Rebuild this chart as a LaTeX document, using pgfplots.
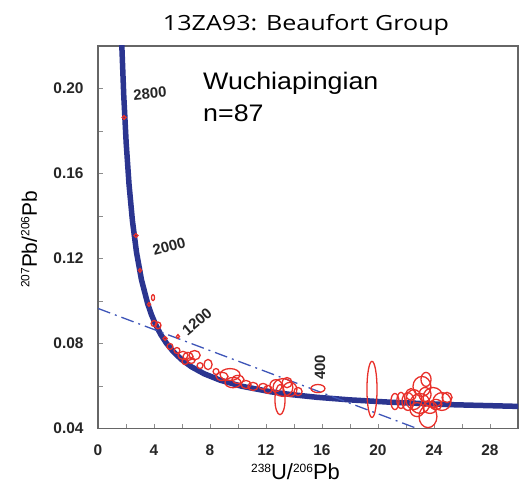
\documentclass[border=0pt]{standalone}
\usepackage{pgfplots}
\pgfplotsset{compat=1.18}
\usepackage{pgfplotstable}
\usepackage{fontspec}
\setmainfont{Liberation Sans}
\newfontfamily\titlefont{Open Sans}
\usetikzlibrary{calc}
\definecolor{concblue}{HTML}{2B3590}
\definecolor{discblue}{HTML}{3E55B8}
\definecolor{ellred}{HTML}{E8302A}
\newcommand{\sups}[1]{\raisebox{7.5bp}{\fontsize{12}{12}\selectfont #1}}

% Tera-Wasserburg concordia, age (Ma), 238U/206Pb, 207Pb/206Pb
\pgfplotstableread{
age x y
200 31.735 0.05011
250 25.289 0.05120
300 20.992 0.05233
350 17.923 0.05350
400 15.621 0.05470
450 13.831 0.05594
500 12.399 0.05722
600 10.252 0.05990
700 8.7183 0.06276
800 7.5684 0.06580
900 6.6743 0.06904
1000 5.9595 0.07250
1100 5.3749 0.07619
1200 4.8877 0.08013
1300 4.4756 0.08432
1400 4.1224 0.08880
1500 3.8168 0.09359
1600 3.5496 0.09872
1800 3.1044 0.11000
2000 2.7491 0.12298
2200 2.4585 0.13781
2400 2.2170 0.15484
2600 2.0130 0.17438
2800 1.8386 0.19685
3000 1.6874 0.22260
3100 1.6195 0.23705
}\concordia

% analyses: centre x, centre y, half-axes rx, ry (axis units)
\pgfplotstableread{
x y rx ry
1.86 0.1864 0.14 0.0009
2.71 0.1308 0.14 0.0009
3.00 0.1144 0.11 0.0009
3.93 0.1016 0.11 0.0014
3.64 0.0984 0.11 0.0009
4.00 0.0894 0.21 0.0014
4.29 0.0885 0.21 0.0016
4.79 0.0824 0.14 0.0009
5.71 0.0833 0.11 0.0009
5.14 0.0786 0.21 0.0014
5.64 0.0767 0.21 0.0014
6.07 0.0744 0.36 0.0019
6.43 0.0739 0.36 0.0019
6.64 0.0720 0.29 0.0014
6.21 0.0715 0.21 0.0014
6.90 0.0745 0.40 0.0022
7.86 0.0701 0.29 0.0024
7.29 0.0696 0.21 0.0014
8.43 0.0668 0.21 0.0014
8.86 0.0645 0.43 0.0019
9.43 0.0654 0.71 0.0028
9.64 0.0616 0.57 0.0024
10.00 0.0631 0.43 0.0019
10.57 0.0607 0.36 0.0019
11.07 0.0598 0.36 0.0019
11.79 0.0598 0.29 0.0014
12.14 0.0584 0.29 0.0019
12.71 0.0602 0.43 0.0028
13.21 0.0593 0.71 0.0042
13.71 0.0584 0.50 0.0033
13.50 0.0616 0.36 0.0024
13.00 0.0536 0.36 0.0071
13.21 0.0386 0.71 0.0221
14.29 0.0574 0.29 0.0019
15.71 0.0588 0.50 0.0019
19.57 0.0584 0.36 0.0132
21.21 0.0527 0.29 0.0038
21.64 0.0532 0.29 0.0038
22.14 0.0527 0.43 0.0042
22.36 0.0560 0.36 0.0028
22.57 0.0536 0.57 0.0047
22.79 0.0489 0.50 0.0033
23.00 0.0518 0.71 0.0047
23.14 0.0598 0.64 0.0047
23.36 0.0560 0.43 0.0033
23.43 0.0631 0.36 0.0033
23.57 0.0456 0.64 0.0052
23.71 0.0499 0.50 0.0028
23.93 0.0546 0.71 0.0047
24.14 0.0513 0.43 0.0024
24.57 0.0527 0.64 0.0042
24.93 0.0546 0.36 0.0024
}\analyses

\begin{document}
\begin{tikzpicture}
\begin{axis}[
  name=ax,
  x=14bp, y=2125bp,
  xmin=0, xmax=30, ymin=0.04, ymax=0.22,
  axis line style={draw=black!60, line width=1.8bp},
  xtick={0,4,...,28}, minor x tick num=1,
  ytick={0.04,0.08,0.12,0.16,0.20}, minor y tick num=1,
  xtick pos=bottom, ytick pos=left,
  tick align=inside,
  major tick length=5bp, minor tick length=5bp,
  tick style={black!45, line width=0.8bp},
  scaled y ticks=false,
  y tick label style={/pgf/number format/fixed, /pgf/number format/fixed zerofill, /pgf/number format/precision=2, xshift=-11bp},
  tick label style={font=\bfseries\fontsize{15.5}{18}\selectfont, text=black!85},
  /pgf/number format/assume math mode=true,
  x tick label style={yshift=-13bp},
  clip marker paths=true,
]
\addplot[concblue, line width=5.5bp, line join=round] table[x=x, y=y] {\concordia};
\addplot[discblue, line width=1.3bp, dash pattern=on 13bp off 5bp on 2bp off 5bp] coordinates {(0,0.0965) (23.6,0.0380)};
\addplot[scatter, only marks, mark=*, mark size=0pt,
  visualization depends on={14*\thisrow{rx} \as \ellrx},
  visualization depends on={2125*\thisrow{ry} \as \ellry},
  scatter/@pre marker code/.code={\draw[ellred, line width=1.3bp] (0pt,0pt) ellipse [x radius=\ellrx bp, y radius=\ellry bp];},
  scatter/@post marker code/.code={},
] table[x=x, y=y] {\analyses};

\node[font=\bfseries\fontsize{15}{18}\selectfont, text=black!85, rotate=5, inner sep=0pt] at (axis cs:3.71,0.1976) {2800};
\node[font=\bfseries\fontsize{15}{18}\selectfont, text=black!85, rotate=15, inner sep=0pt] at (axis cs:5.07,0.1256) {2000};
\node[font=\bfseries\fontsize{15}{18}\selectfont, text=black!85, rotate=40, inner sep=0pt] at (axis cs:7.07,0.0904) {1200};
\node[font=\bfseries\fontsize{15}{18}\selectfont, text=black!85, rotate=90, inner sep=0pt] at (axis cs:15.86,0.0687) {400};

\node[font=\fontsize{24}{28}\selectfont, anchor=base west, inner sep=0pt, xscale=1.12] at (axis cs:7.5,0.1995) {Wuchiapingian};
\node[font=\fontsize{24}{28}\selectfont, anchor=base west, inner sep=0pt, xscale=1.12] at (axis cs:7.5,0.1845) {n=87};

\coordinate (O) at (rel axis cs:0,0);
\coordinate (TR) at (rel axis cs:1,1);
\end{axis}
\node[font=\titlefont\fontsize{21}{24}\selectfont, anchor=base, inner sep=0pt, xscale=1.2] at ($(O)+(208bp,398bp)$) {13ZA93: Beaufort Group};
\node[font=\fontsize{22}{24}\selectfont, anchor=base, inner sep=0pt] at ($(O)+(197.5bp,-51bp)$) {\sups{238}U/\sups{206}Pb};
\node[font=\fontsize{21}{24}\selectfont, anchor=base, inner sep=0pt, rotate=90] at ($(O)+(-61bp,189bp)$) {\sups{207}Pb/\sups{206}Pb};
\useasboundingbox ($(O)+(-98bp,-57bp)$) rectangle ($(TR)+(6bp,46bp)$);
\end{tikzpicture}
\end{document}
